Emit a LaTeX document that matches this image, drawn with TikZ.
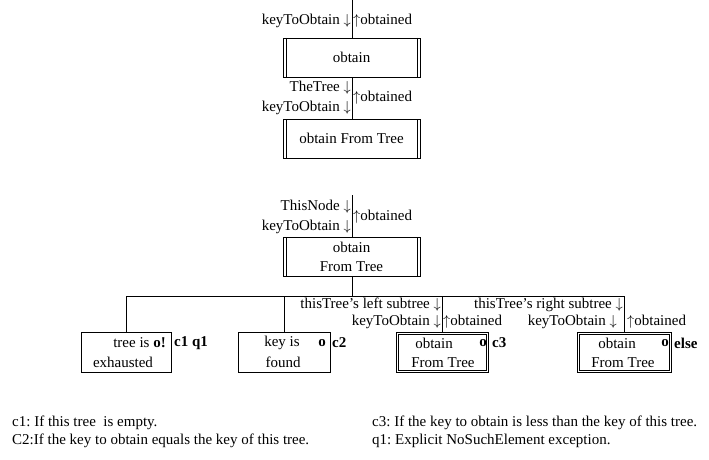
\documentclass[tikz,border=0pt]{standalone}
\usepackage{fontspec}
\setmainfont{Liberation Serif}
\usetikzlibrary{backgrounds}
\newcommand{\dn}{\ensuremath{\downarrow}}
\newcommand{\upa}{\ensuremath{\uparrow}}
\frenchspacing
\begin{document}
\begin{tikzpicture}[x=1pt,y=-1pt,
  every node/.style={inner sep=0pt,font=\fontsize{15}{19}\selectfont},
  lbl/.style={},
  procbox/.style={draw,line width=0.9pt,minimum width=137pt,minimum height=39pt,
    path picture={\draw[line width=0.9pt]
      ([xshift=3pt]path picture bounding box.north west) -- ([xshift=3pt]path picture bounding box.south west)
      ([xshift=-3pt]path picture bounding box.north east) -- ([xshift=-3pt]path picture bounding box.south east);}},
  leafbox/.style={draw,line width=0.9pt,minimum height=40pt},
  dblbox/.style={draw,line width=0.7pt,double=white,double distance=1.6pt,minimum height=37.8pt},
  conn/.style={line width=0.9pt}]
\useasboundingbox (0,0) rectangle (709,460);

% top diagram
\coordinate (top) at (352,0);
\node[procbox] (b1) at (351.5,57.5) {obtain};
\node[procbox] (b2) at (351.5,138.5) {obtain From Tree};
\begin{scope}[on background layer]
\draw[conn] (top) -- (top |- b1.north);
\draw[conn] (top |- b1.south) -- (top |- b2.north);
\end{scope}
\node[lbl,anchor=east] (k1) at (351,21) {keyToObtain \dn};
\node[lbl,anchor=west] (o1) at (353,21) {\upa obtained};
\node[lbl,anchor=east] (t2) at (351,88) {TheTree \dn};
\node[lbl,anchor=east] (k2) at (351,108) {keyToObtain \dn};
\node[lbl,anchor=west] (o2) at (353,98) {\upa obtained};

% second diagram
\coordinate (top2) at (352,195);
\node[procbox,align=center] (b3) at (351.5,256.5) {obtain\\From Tree};
\node[lbl,anchor=east] (t3) at (351,207) {ThisNode \dn};
\node[lbl,anchor=east] (k3) at (351,227) {keyToObtain \dn};
\node[lbl,anchor=west] (o3) at (353,217) {\upa obtained};

\node[leafbox,minimum width=90pt] (ex) at (126,352) {};
\node[leafbox,minimum width=92pt] (kf) at (284,352) {};
\node[dblbox,minimum width=90pt] (c3b) at (442.5,352.5) {};
\node[dblbox,minimum width=92pt] (el) at (624.5,352.5) {};

\coordinate (hL) at (126,296);
\coordinate (hR) at (624,296);
\coordinate (hM) at (352,296);
\begin{scope}[on background layer]
\draw[conn] (top2) -- (top2 |- b3.north);
\draw[conn] (top2 |- b3.south) -- (hM);
\draw[conn] (hL) -- (hR);
\draw[conn] (hL) -- (ex.north);
\draw[conn] (kf.north |- hL) -- (kf.north);
\draw[conn] (442,296) coordinate (hC) -- (hC |- c3b.north);
\draw[conn] (hR) -- (hR |- el.north);
\end{scope}

\node[lbl,anchor=east] (ls) at (441,305) {thisTree’s left subtree \dn};
\node[lbl,anchor=east] (lk) at (441,322) {keyToObtain \dn};
\node[lbl,anchor=west] (lo) at (443,322) {\upa obtained};
\node[lbl,anchor=east] (rs) at (623,305) {thisTree’s right subtree \dn};
\node[lbl,anchor=east] (rk) at (617,322) {keyToObtain \dn};
\node[lbl,anchor=west] (ro) at (627,322) {\upa obtained};

% leaf texts
\node[anchor=east] (ex1) at (166,343) {tree is \textbf{o!}};
\node (ex2) at (123,362) {exhausted};
\node[anchor=west] (exl) at (174,343) {\textbf{c1 q1}};
\node (kf1) at (282,343) {key is};
\node (kfo) at (322,343) {\textbf{o}};
\node (kf2) at (283,362) {found};
\node[anchor=west] (kfl) at (332,343) {\textbf{c2}};
\node (c31) at (434,343) {obtain};
\node (c3o) at (483,343) {\textbf{o}};
\node (c32) at (443,363) {From Tree};
\node[anchor=west] (c3l) at (492,343) {\textbf{c3}};
\node (el1) at (617,343) {obtain};
\node (elo) at (665,343) {\textbf{o}};
\node (el2) at (623,363) {From Tree};
\node[anchor=west] (ell) at (674,343) {\textbf{else}};

% notes
\node[anchor=west] (n1) at (12,423) {c1: If this tree~ is empty.};
\node[anchor=west] (n2) at (12,441) {C2:If the key to obtain equals the key of this tree.};
\node[anchor=west] (n3) at (372,423) {c3: If the key to obtain is less than the key of this tree.};
\node[anchor=west] (n4) at (372,441) {q1: Explicit NoSuchElement exception.};
\end{tikzpicture}
\end{document}
